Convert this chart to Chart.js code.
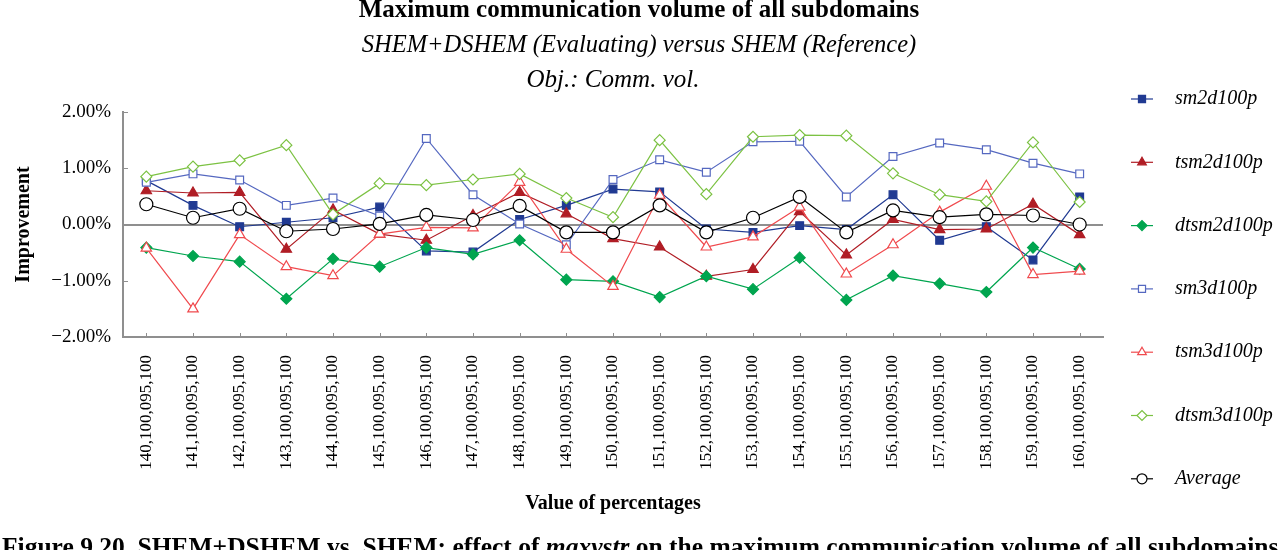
<!DOCTYPE html>
<html>
<head>
<meta charset="utf-8">
<script src="https://cdn.jsdelivr.net/npm/chart.js@4.4.0/dist/chart.umd.min.js"></script>
<style>
  html, body { margin: 0; padding: 0; background: #fff; overflow: hidden; }
  #wrap { position: relative; width: 1278px; height: 550px; overflow: hidden; }
  #wrap canvas { position: absolute; left: 0; top: 0; }
  .txt { position: absolute; white-space: nowrap; color: #000; font-family: "Liberation Serif", "Times New Roman", serif; line-height: 1; }
</style>
</head>
<body>
<div id="wrap">
  <canvas id="chart" width="1278" height="550"></canvas>
  <div class="txt" style="left:0;width:1278px;text-align:center;top:-4px;font-size:25px;font-weight:bold;">Maximum communication volume of all subdomains</div>
  <div class="txt" style="left:0;width:1278px;text-align:center;top:32px;font-size:24.5px;font-style:italic;">SHEM+DSHEM (Evaluating) versus SHEM (Reference)</div>
  <div class="txt" style="left:123px;width:980px;text-align:center;top:66px;font-size:25px;font-style:italic;">Obj.: Comm. vol.</div>
  <div class="txt" style="left:2px;top:534px;font-size:25.5px;font-weight:bold;">Figure 9.20. SHEM+DSHEM vs. SHEM: effect of <i>maxvstr</i> on the maximum communication volume of all subdomains</div>
</div>
<script>
// improvement in percent
const categories = [
  '140,100,095,100', '141,100,095,100', '142,100,095,100', '143,100,095,100',
  '144,100,095,100', '145,100,095,100', '146,100,095,100', '147,100,095,100',
  '148,100,095,100', '149,100,095,100', '150,100,095,100', '151,100,095,100',
  '152,100,095,100', '153,100,095,100', '154,100,095,100', '155,100,095,100',
  '156,100,095,100', '157,100,095,100', '158,100,095,100', '159,100,095,100',
  '160,100,095,100'
];
const sm2d100p   = [0.78, 0.34, -0.04, 0.04, 0.12, 0.31, -0.47, -0.49, 0.09, 0.34, 0.63, 0.58, -0.08, -0.14, -0.02, -0.09, 0.53, -0.28, -0.04, -0.63, 0.49];
const tsm2d100p  = [0.60, 0.56, 0.57, -0.44, 0.26, -0.17, -0.28, 0.16, 0.57, 0.19, -0.25, -0.40, -0.92, -0.80, 0.23, -0.54, 0.09, -0.09, -0.08, 0.36, -0.18];
const dtsm2d100p = [-0.41, -0.56, -0.66, -1.32, -0.61, -0.75, -0.41, -0.53, -0.28, -0.98, -1.01, -1.29, -0.92, -1.15, -0.59, -1.34, -0.91, -1.05, -1.20, -0.41, -0.79];
const sm3d100p   = [0.75, 0.90, 0.79, 0.34, 0.47, 0.15, 1.53, 0.53, 0.01, -0.36, 0.80, 1.15, 0.93, 1.47, 1.48, 0.49, 1.21, 1.45, 1.33, 1.09, 0.90];
const tsm3d100p  = [-0.42, -1.50, -0.18, -0.75, -0.91, -0.17, -0.05, -0.06, 0.75, -0.44, -1.10, 0.52, -0.40, -0.22, 0.31, -0.88, -0.36, 0.22, 0.68, -0.89, -0.83];
const dtsm3d100p = [0.85, 1.03, 1.14, 1.41, 0.18, 0.73, 0.70, 0.80, 0.90, 0.47, 0.13, 1.50, 0.54, 1.56, 1.59, 1.58, 0.91, 0.53, 0.41, 1.46, 0.40];
const average    = [0.36, 0.12, 0.28, -0.12, -0.08, 0.01, 0.17, 0.08, 0.33, -0.14, -0.14, 0.34, -0.14, 0.12, 0.49, -0.14, 0.25, 0.13, 0.18, 0.16, 0.00];

const yTicks = [-2, -1, 0, 1, 2];

const AXIS_GRAY = '#8f8f8f';
const SERIF = '"Liberation Serif", "Times New Roman", serif';

function series(label, data, color, style, filled, radius, idx) {
  return {
    label: label,
    data: data,
    borderColor: color,
    borderWidth: 1.2,
    pointStyle: style,
    pointRadius: radius,
    pointHoverRadius: radius,
    pointBorderColor: color,
    pointBorderWidth: 1.2,
    pointBackgroundColor: filled ? color : '#ffffff',
    backgroundColor: filled ? color : '#ffffff',
    tension: 0,
    fill: false,
    order: 6 - idx
  };
}

const datasets = [
  series('sm2d100p', sm2d100p, '#203a92', 'rect', true, 5.5, 0),
  series('tsm2d100p', tsm2d100p, '#b01d25', 'triangle', true, 6, 1),
  series('dtsm2d100p', dtsm2d100p, '#00a54f', 'rectRot', true, 5.5, 2),
  series('sm3d100p', sm3d100p, '#5568c0', 'rect', false, 5.5, 3),
  series('tsm3d100p', tsm3d100p, '#f04a4e', 'triangle', false, 6, 4),
  series('dtsm3d100p', dtsm3d100p, '#7cc243', 'rectRot', false, 5.5, 5),
  series('Average', average, '#000000', 'circle', false, 6.5, 6)
];

// small inward tick marks on both axes, like the original
const innerTicks = {
  id: 'innerTicks',
  beforeDatasetsDraw(chart) {
    const ctx = chart.ctx;
    const x = chart.scales.x, y = chart.scales.y;
    const area = chart.chartArea;
    ctx.save();
    ctx.strokeStyle = AXIS_GRAY;
    ctx.lineWidth = 1;
    categories.forEach((c, i) => {
      const px = Math.round(x.getPixelForValue(i)) + 0.5;
      ctx.beginPath();
      ctx.moveTo(px, area.bottom);
      ctx.lineTo(px, area.bottom - 4);
      ctx.stroke();
    });
    yTicks.forEach(v => {
      const py = Math.round(y.getPixelForValue(v)) + 0.5;
      ctx.beginPath();
      ctx.moveTo(area.left, py);
      ctx.lineTo(area.left + 5, py);
      ctx.stroke();
    });
    ctx.restore();
  }
};

// legend at the right: a short line through the marker, then the name
const sideLegend = {
  id: 'sideLegend',
  afterDraw(chart) {
    const ctx = chart.ctx;
    chart.data.datasets.forEach((ds, i) => {
      const cy = 99 + i * 63.3;
      ctx.save();
      ctx.strokeStyle = ds.borderColor;
      ctx.lineWidth = 1.2;
      ctx.beginPath();
      ctx.moveTo(1131, cy);
      ctx.lineTo(1153, cy);
      ctx.stroke();
      ctx.fillStyle = ds.pointBackgroundColor;
      ctx.strokeStyle = ds.pointBorderColor;
      Chart.helpers.drawPoint(ctx, {
        pointStyle: ds.pointStyle,
        radius: ds.pointStyle === 'circle' ? 5 : 5,
        rotation: 0,
        borderWidth: 1.2
      }, 1142, cy);
      ctx.fillStyle = '#000';
      ctx.font = 'italic 20px ' + SERIF;
      ctx.textBaseline = 'middle';
      ctx.textAlign = 'left';
      ctx.fillText(ds.label, 1175, cy);
      ctx.restore();
    });
  }
};

new Chart(document.getElementById('chart').getContext('2d'), {
  type: 'line',
  data: { labels: categories, datasets: datasets },
  options: {
    responsive: false,
    animation: false,
    events: [],
    layout: { padding: { top: 112, right: 175, bottom: 0, left: 0 } },
    plugins: {
      legend: { display: false },
      title: { display: false },
      tooltip: { enabled: false }
    },
    scales: {
      x: {
        type: 'category',
        offset: true,
        afterFit(scale) { scale.height = 213; },
        grid: { display: false },
        border: { display: true, color: AXIS_GRAY, width: 2 },
        ticks: {
          autoSkip: false,
          minRotation: 90,
          maxRotation: 90,
          padding: 10,
          color: '#000',
          font: { family: SERIF, size: 17 }
        },
        title: {
          display: true,
          text: 'Value of percentages',
          color: '#000',
          font: { family: SERIF, size: 20, weight: 'bold' },
          padding: { top: 0, bottom: 34 }
        }
      },
      y: {
        min: -2,
        max: 2,
        afterFit(scale) { scale.width = 123; },
        afterBuildTicks(scale) { scale.ticks = yTicks.map(v => ({ value: v })); },
        grid: {
          drawTicks: false,
          lineWidth: 2,
          color: c => (c.tick && c.tick.value === 0 ? AXIS_GRAY : 'rgba(0,0,0,0)')
        },
        border: { display: true, color: AXIS_GRAY, width: 2 },
        ticks: {
          padding: 12,
          color: '#000',
          font: { family: SERIF, size: 19 },
          callback: v => (v < 0 ? '\u2212' : '') + Math.abs(v).toFixed(2) + '%'
        },
        title: {
          display: true,
          text: 'Improvement',
          color: '#000',
          font: { family: SERIF, size: 20, weight: 'bold' },
          padding: { top: 12, bottom: 0 }
        }
      }
    }
  },
  plugins: [innerTicks, sideLegend]
});
</script>
</body>
</html>
